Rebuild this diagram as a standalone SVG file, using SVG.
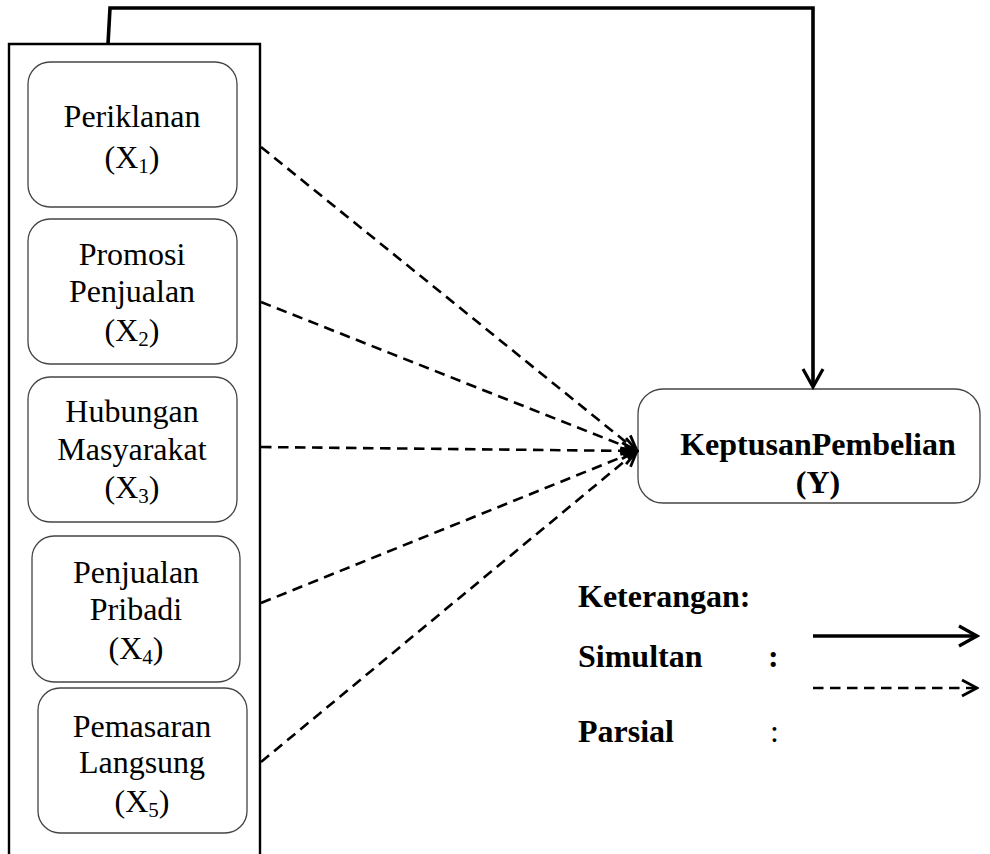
<svg xmlns="http://www.w3.org/2000/svg" width="990" height="854" viewBox="0 0 990 854">
<defs>
<style>
.t{font-family:"Liberation Serif","Times New Roman",serif;font-size:32px;fill:#000;text-anchor:middle}
.b{font-weight:bold}
.l{text-anchor:start}
.sub{font-size:21px}
.node{fill:#fff;stroke:#444;stroke-width:1.3}
.dash{fill:none;stroke:#000;stroke-width:2.6;stroke-dasharray:10.5 6.5}
.solid{fill:none;stroke:#000;stroke-width:3.6}
</style>
<marker id="ah" viewBox="0 0 20 20" refX="18" refY="10" markerWidth="20" markerHeight="20" markerUnits="userSpaceOnUse" orient="auto">
<path d="M3,2 L18,10 L3,18" fill="none" stroke="#000" stroke-width="2.8"/>
</marker>
<marker id="ah2" viewBox="0 0 24 24" refX="21" refY="12" markerWidth="24" markerHeight="24" markerUnits="userSpaceOnUse" orient="auto">
<path d="M3,2 L21,12 L3,22" fill="none" stroke="#000" stroke-width="3.2"/>
</marker>
</defs>
<rect width="990" height="854" fill="#fff"/>
<g id="outer">
<path d="M9,854 L9,44 L260,44 L260,854" fill="none" stroke="#000" stroke-width="2.4"/>
</g>
<g id="x1">
<rect class="node" x="28" y="62" width="209" height="145" rx="22"/>
<text class="t" x="132" y="127">Periklanan</text>
<text class="t" x="132" y="168">(X<tspan class="sub" dy="5">1</tspan><tspan dy="-5">)</tspan></text>
</g>
<g id="x2">
<rect class="node" x="28" y="219" width="209" height="145" rx="22"/>
<text class="t" x="132" y="265">Promosi</text>
<text class="t" x="132" y="302">Penjualan</text>
<text class="t" x="132" y="341">(X<tspan class="sub" dy="5">2</tspan><tspan dy="-5">)</tspan></text>
</g>
<g id="x3">
<rect class="node" x="28" y="377" width="209" height="145" rx="22"/>
<text class="t" x="132" y="422">Hubungan</text>
<text class="t" x="132" y="460">Masyarakat</text>
<text class="t" x="132" y="498">(X<tspan class="sub" dy="5">3</tspan><tspan dy="-5">)</tspan></text>
</g>
<g id="x4">
<rect class="node" x="32" y="536" width="208" height="146" rx="22"/>
<text class="t" x="136" y="583">Penjualan</text>
<text class="t" x="136" y="620">Pribadi</text>
<text class="t" x="136" y="659">(X<tspan class="sub" dy="5">4</tspan><tspan dy="-5">)</tspan></text>
</g>
<g id="x5">
<rect class="node" x="38" y="688" width="209" height="145" rx="22"/>
<text class="t" x="142" y="737">Pemasaran</text>
<text class="t" x="142" y="773">Langsung</text>
<text class="t" x="142" y="812">(X<tspan class="sub" dy="5">5</tspan><tspan dy="-5">)</tspan></text>
</g>
<g id="y">
<rect class="node" x="638" y="389" width="342" height="114" rx="25"/>
<text class="t b" x="818" y="455">KeptusanPembelian</text>
<text class="t b" x="818" y="493">(Y)</text>
</g>
<g id="connectors">
<path class="solid" d="M108,44 L110,8 L813,8 L813,387" marker-end="url(#ah2)"/>
<line class="dash" x1="261" y1="147" x2="637" y2="451" marker-end="url(#ah)"/>
<line class="dash" x1="261" y1="302" x2="637" y2="451" marker-end="url(#ah)"/>
<line class="dash" x1="261" y1="447" x2="637" y2="451" marker-end="url(#ah)"/>
<line class="dash" x1="261" y1="603" x2="637" y2="451" marker-end="url(#ah)"/>
<line class="dash" x1="261" y1="762" x2="637" y2="451" marker-end="url(#ah)"/>
</g>
<g id="legend">
<text class="t b l" x="578" y="607">Keterangan:</text>
<text class="t b l" x="578" y="667">Simultan</text>
<text class="t b l" x="768" y="667">:</text>
<text class="t b l" x="578" y="742">Parsial</text>
<text class="t l" x="770" y="742" font-size="24">:</text>
<line class="solid" x1="813" y1="636" x2="977" y2="636" marker-end="url(#ah2)"/>
<line class="dash" x1="813" y1="688" x2="977" y2="688" marker-end="url(#ah)"/>
</g>
</svg>
